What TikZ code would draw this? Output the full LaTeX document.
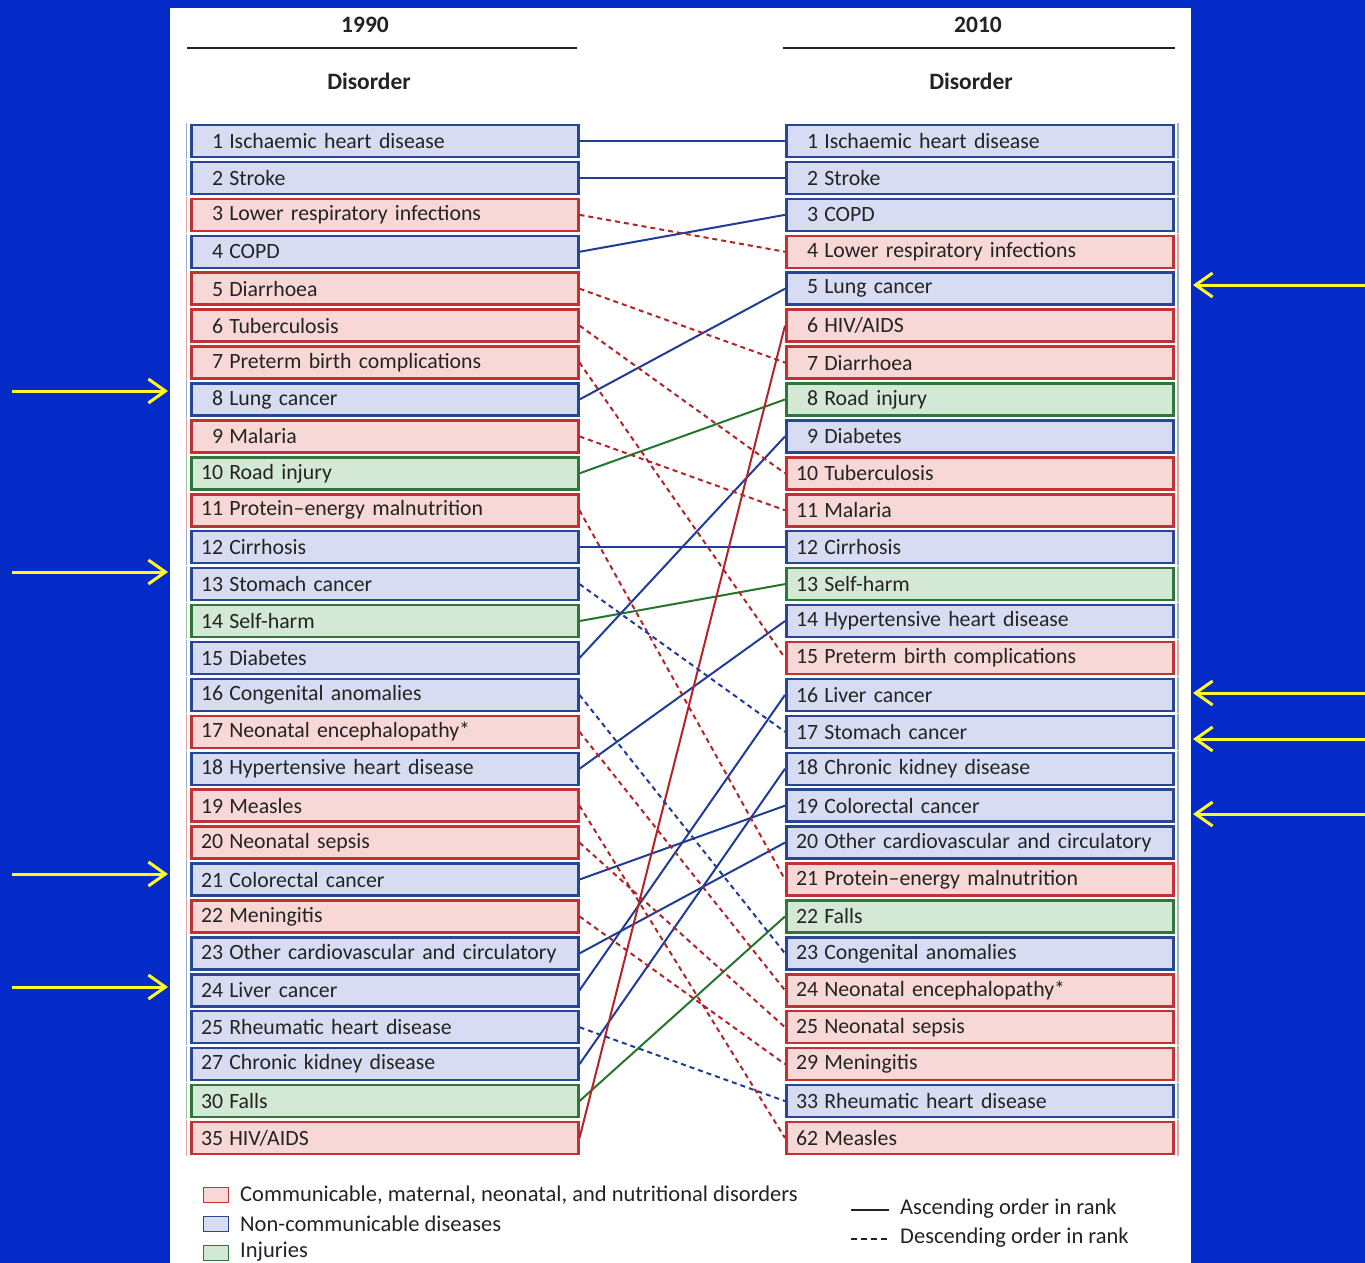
\documentclass[tikz,border=0pt]{standalone}
\usepackage{fontspec}
\setmainfont{Carlito}
\usetikzlibrary{arrows.meta}
\definecolor{bgblue}{RGB}{4,42,200}
\definecolor{fillB}{RGB}{216,220,242}
\definecolor{fillR}{RGB}{248,216,214}
\definecolor{fillG}{RGB}{212,232,214}
\definecolor{lineB}{RGB}{40,70,150}
\definecolor{lineR}{RGB}{192,50,52}
\definecolor{lineG}{RGB}{46,118,58}
\definecolor{connB}{RGB}{32,60,150}
\definecolor{connR}{RGB}{178,36,40}
\definecolor{connG}{RGB}{36,118,46}
\definecolor{ylw}{RGB}{255,250,40}
\definecolor{txt}{RGB}{35,35,35}
\newcommand\rk[1]{\makebox[22pt][r]{#1}\hspace{6pt}}
\begin{document}
\begin{tikzpicture}[x=1pt,y=-1pt,
  box/.style={draw=line#1, fill=fill#1, line width=2.5pt, anchor=west,
    minimum height=32pt, text width=367pt, inner xsep=10pt, inner ysep=0pt,
    align=left, text=txt, font=\fontsize{21.8}{23}\selectfont},
  conn/.style={draw=conn#1, line width=2pt},
  dsh/.style={dash pattern=on 5pt off 4pt},
  head/.style={font=\fontsize{23.5}{26}\selectfont\bfseries, text=txt},
  legtxt/.style={font=\fontsize{22.5}{25}\selectfont, text=txt, anchor=west, inner sep=0pt},
  legsq/.style={draw=line#1, fill=fill#1, line width=1.8pt, minimum width=25pt, minimum height=15pt, inner sep=0pt},
  yarrow/.style={draw=ylw, line width=3pt, -{Straight Barb[length=17pt,width=24pt]}}]
\useasboundingbox (0,0) rectangle (1365,1263);
\fill[bgblue] (0,0) rectangle (1365,1263);
\fill[white] (170,8) rectangle (1191,1263);
% headers
\node[head] (h1990) at (365,25) {1990};
\node[head] (h2010) at (978,25) {2010};
\node[head] (d1990) at (369,81) {Disorder};
\node[head] (d2010) at (971,81) {Disorder};
\coordinate (hl1a) at (187,48); \coordinate (hl1b) at (577,48);
\coordinate (hl2a) at (783,48); \coordinate (hl2b) at (1175,48);
\draw[line width=1.8pt, txt] (hl1a) -- (hl1b);
\draw[line width=1.8pt, txt] (hl2a) -- (hl2b);
% left column (1990)
\foreach \i/\n/\t/\c in {
 1/1/Ischaemic heart disease/B, 2/2/Stroke/B, 3/3/Lower respiratory infections/R,
 4/4/COPD/B, 5/5/Diarrhoea/R, 6/6/Tuberculosis/R, 7/7/Preterm birth complications/R,
 8/8/Lung cancer/B, 9/9/Malaria/R, 10/10/Road injury/G, 11/11/Protein–energy malnutrition/R,
 12/12/Cirrhosis/B, 13/13/Stomach cancer/B, 14/14/Self-harm/G, 15/15/Diabetes/B,
 16/16/Congenital anomalies/B, 17/17/Neonatal encephalopathy*/R, 18/18/Hypertensive heart disease/B,
 19/19/Measles/R, 20/20/Neonatal sepsis/R, 21/21/Colorectal cancer/B, 22/22/Meningitis/R,
 23/23/Other cardiovascular and circulatory/B, 24/24/Liver cancer/B, 25/25/Rheumatic heart disease/B,
 26/27/Chronic kidney disease/B, 27/30/Falls/G, 28/35/{HIV/AIDS}/R}{
  \node[box=\c] (L\i) at (190,{141+(\i-1)*36.926}) {\rk{\n}\t};
  \draw[line\c!45, line width=1.2pt] ([xshift=-3.5pt,yshift=1pt]L\i.north west) -- ([xshift=-3.5pt,yshift=-1pt]L\i.south west);
}
% right column (2010)
\foreach \i/\n/\t/\c in {
 1/1/Ischaemic heart disease/B, 2/2/Stroke/B, 3/3/COPD/B, 4/4/Lower respiratory infections/R,
 5/5/Lung cancer/B, 6/6/{HIV/AIDS}/R, 7/7/Diarrhoea/R, 8/8/Road injury/G, 9/9/Diabetes/B,
 10/10/Tuberculosis/R, 11/11/Malaria/R, 12/12/Cirrhosis/B, 13/13/Self-harm/G,
 14/14/Hypertensive heart disease/B, 15/15/Preterm birth complications/R, 16/16/Liver cancer/B,
 17/17/Stomach cancer/B, 18/18/Chronic kidney disease/B, 19/19/Colorectal cancer/B,
 20/20/Other cardiovascular and circulatory/B, 21/21/Protein–energy malnutrition/R, 22/22/Falls/G,
 23/23/Congenital anomalies/B, 24/24/Neonatal encephalopathy*/R, 25/25/Neonatal sepsis/R,
 26/29/Meningitis/R, 27/33/Rheumatic heart disease/B, 28/62/Measles/R}{
  \node[box=\c] (R\i) at (785,{141+(\i-1)*36.926}) {\rk{\n}\t};
  \draw[line\c!45, line width=1.2pt] ([xshift=3.5pt,yshift=1pt]R\i.north east) -- ([xshift=3.5pt,yshift=-1pt]R\i.south east);
}
% connectors: ascending (solid)
\foreach \a/\b/\c in {1/1/B, 2/2/B, 4/3/B, 8/5/B, 10/8/G, 12/12/B, 14/13/G, 15/9/B, 18/14/B,
  21/19/B, 23/20/B, 24/16/B, 26/18/B, 27/22/G, 28/6/R}{
  \draw[conn=\c] (L\a.east) -- (R\b.west);
}
% connectors: descending (dashed)
\foreach \a/\b/\c in {3/4/R, 5/7/R, 6/10/R, 7/15/R, 9/11/R, 11/21/R, 13/17/B, 16/23/B,
  17/24/R, 19/28/R, 20/25/R, 22/26/R, 25/27/B}{
  \draw[conn=\c, dsh] (L\a.east) -- (R\b.west);
}
% legend
\node[legsq=R] (sqR) at (216,1195) {};
\node[legsq=B] (sqB) at (216,1224) {};
\node[legsq=G] (sqG) at (216,1253) {};
\node[legtxt] (tR) at (240,1195) {Communicable, maternal, neonatal, and nutritional disorders};
\node[legtxt] (tB) at (240,1224) {Non-communicable diseases};
\node[legtxt] (tG) at (240,1252) {Injuries};
\coordinate (ls1) at (851,1210); \coordinate (le1) at (889,1210);
\coordinate (ls2) at (851,1239); \coordinate (le2) at (889,1239);
\draw[line width=1.8pt, txt] (ls1) -- (le1);
\draw[line width=1.8pt, txt, dash pattern=on 6pt off 4pt] (ls2) -- (le2);
\node[legtxt] (tAsc) at (900,1209) {Ascending order in rank};
\node[legtxt] (tDesc) at (900,1238) {Descending order in rank};
% yellow arrows
\foreach \k/\y in {1/391, 2/572, 3/874, 4/987}{
  \coordinate (ya\k) at (12,\y); \coordinate (yb\k) at (168,\y);
  \draw[yarrow] (ya\k) -- (yb\k);
}
\foreach \k/\y in {1/285, 2/693, 3/739, 4/814}{
  \coordinate (za\k) at (1365,\y); \coordinate (zb\k) at (1193,\y);
  \draw[yarrow] (za\k) -- (zb\k);
}
\end{tikzpicture}
\end{document}
